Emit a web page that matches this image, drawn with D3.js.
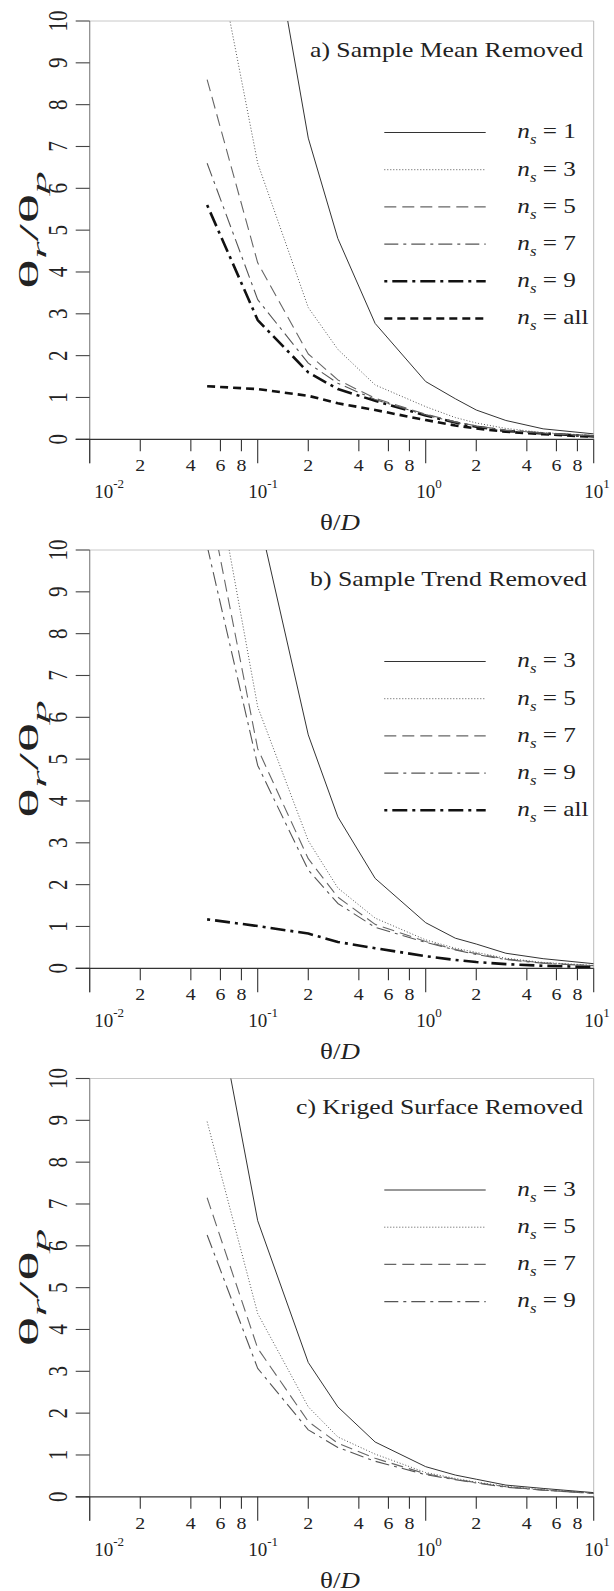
<!DOCTYPE html>
<html>
<head>
<meta charset="utf-8">
<script src="https://cdn.jsdelivr.net/npm/d3@7"></script>
<style>
  body{margin:0;background:#fff;}
  text{font-family:"Liberation Serif","Times New Roman",serif;fill:#222;}
</style>
</head>
<body>
<svg id="chart" width="614" height="1591"></svg>
<script>
// sample separations (theta/D) where the curves were computed
const xVals=[0.05,0.1,0.2,0.3,0.5,1,1.5,2,3,5,10];

// a) sample mean removed
const meanNs1=[30,14.1,7.2,4.8,2.77,1.38,0.97,0.70,0.45,0.25,0.13];
const meanNs3=[12.8,6.6,3.15,2.15,1.3,0.78,0.52,0.39,0.26,0.16,0.09];
const meanNs5=[8.6,4.22,2.04,1.42,0.98,0.6,0.42,0.32,0.22,0.15,0.08];
const meanNs7=[6.6,3.34,1.82,1.34,0.95,0.58,0.41,0.31,0.21,0.14,0.08];
const meanNs9=[5.6,2.85,1.6,1.2,0.92,0.57,0.40,0.30,0.20,0.14,0.07];
const meanNsAll=[1.27,1.2,1.04,0.86,0.70,0.46,0.33,0.26,0.18,0.12,0.06];

// b) sample trend removed
const trendNs3=[22,10.9,5.58,3.62,2.15,1.09,0.72,0.58,0.36,0.23,0.11];
const trendNs5=[12.9,6.25,3.05,1.92,1.2,0.68,0.48,0.38,0.24,0.14,0.07];
const trendNs7=[11.4,5.25,2.62,1.7,1.05,0.64,0.45,0.35,0.22,0.13,0.06];
const trendNs9=[10.1,4.85,2.35,1.55,0.98,0.62,0.44,0.33,0.21,0.12,0.06];
const trendNsAll=[1.17,1.01,0.83,0.63,0.48,0.29,0.2,0.15,0.1,0.06,0.03];

// c) kriged surface removed
const krigNs3=[13.0,6.6,3.21,2.15,1.31,0.72,0.52,0.42,0.28,0.2,0.1];
const krigNs5=[8.97,4.38,2.15,1.43,1.02,0.58,0.44,0.35,0.25,0.17,0.09];
const krigNs7=[7.15,3.55,1.8,1.28,0.92,0.55,0.42,0.34,0.24,0.16,0.08];
const krigNs9=[6.26,3.07,1.6,1.18,0.85,0.53,0.41,0.33,0.23,0.16,0.08];

const yTicks=[0,1,2,3,4,5,6,7,8,9,10];
const xMajor=[0.01,0.1,1,10];
const xMajorExp=["-2","-1","0","1"];
const xMinor=[0.02,0.04,0.06,0.08,0.2,0.4,0.6,0.8,2,4,6,8];
const xMinorLab=["2","4","6","8","2","4","6","8","2","4","6","8"];

const styles={
  solid:{dash:null,w:1,c:"#333"},
  dotted:{dash:"1,2",w:1,c:"#555"},
  dashed:{dash:"12,6",w:1.1,c:"#666"},
  longShort:{dash:"14,5,3,5",w:1.1,c:"#555"},
  thickDashDot:{dash:"3,5,15,5",w:2.6,c:"#111"},
  thickDashed:{dash:"8,5",w:2.6,c:"#111"}
};

const panels=[
  {top:21,title:"a) Sample Mean Removed",tx:310,tlen:273,series:[
    {lab:"1",v:meanNs1,s:"solid"},{lab:"3",v:meanNs3,s:"dotted"},
    {lab:"5",v:meanNs5,s:"dashed"},{lab:"7",v:meanNs7,s:"longShort"},
    {lab:"9",v:meanNs9,s:"thickDashDot"},{lab:"all",v:meanNsAll,s:"thickDashed"}]},
  {top:550,title:"b) Sample Trend Removed",tx:310,tlen:277,series:[
    {lab:"3",v:trendNs3,s:"solid"},{lab:"5",v:trendNs5,s:"dotted"},
    {lab:"7",v:trendNs7,s:"dashed"},{lab:"9",v:trendNs9,s:"longShort"},
    {lab:"all",v:trendNsAll,s:"thickDashDot"}]},
  {top:1078.5,title:"c) Kriged Surface Removed",tx:296,tlen:287,series:[
    {lab:"3",v:krigNs3,s:"solid"},{lab:"5",v:krigNs5,s:"dotted"},
    {lab:"7",v:krigNs7,s:"dashed"},{lab:"9",v:krigNs9,s:"longShort"}]}
];

const svg=d3.select("#chart");
const L=89.7,R=593.7,PH=418.3;
const SX=1.17;

// text placed at x,y, stretched horizontally by sx, optionally rotated inside
function stext(g,x,y,sx,rot){
  const holder=g.append("g").attr("transform",`translate(${x},${y}) scale(${sx},1)`);
  const t=holder.append("text");
  if(rot) t.attr("transform",`rotate(${rot})`);
  return t;
}

panels.forEach((p,pi)=>{
  const g=svg.append("g");
  const top=p.top,zero=top+PH;
  const x=d3.scaleLog().domain([0.01,10]).range([L,R]);
  const y=d3.scaleLinear().domain([0,10]).range([zero,top]);

  const cid="clip"+pi;
  g.append("clipPath").attr("id",cid).append("rect")
    .attr("x",L).attr("y",top).attr("width",R-L).attr("height",PH);

  // frame
  g.append("line").attr("x1",L).attr("x2",R).attr("y1",top).attr("y2",top)
    .attr("stroke","#c8c8c8").attr("stroke-width",1);
  g.append("line").attr("x1",R).attr("x2",R).attr("y1",top).attr("y2",zero)
    .attr("stroke","#bbb").attr("stroke-width",1);
  g.append("line").attr("x1",L).attr("x2",L).attr("y1",top).attr("y2",zero+24)
    .attr("stroke","#888").attr("stroke-width",1.2);

  // y ticks
  g.selectAll(".yt").data(yTicks).enter().append("line")
    .attr("x1",L-14).attr("x2",L).attr("y1",d=>y(d)).attr("y2",d=>y(d))
    .attr("stroke","#444").attr("stroke-width",1.1);
  yTicks.forEach(t=>{
    stext(g,67,y(t),1.25,-90).attr("text-anchor","middle")
      .attr("font-size",21).text(t);
  });

  // x axis line
  g.append("line").attr("x1",L-14).attr("x2",R).attr("y1",zero).attr("y2",zero)
    .attr("stroke","#333").attr("stroke-width",1.2);
  g.selectAll(".xM").data(xMajor).enter().append("line")
    .attr("x1",d=>x(d)).attr("x2",d=>x(d)).attr("y1",zero).attr("y2",zero+24)
    .attr("stroke","#333").attr("stroke-width",1.1);
  g.selectAll(".xm").data(xMinor).enter().append("line")
    .attr("x1",d=>x(d)).attr("x2",d=>x(d)).attr("y1",zero).attr("y2",zero+12)
    .attr("stroke","#333").attr("stroke-width",1.1);
  xMinor.forEach((t,i)=>{
    stext(g,x(t),zero+32,SX).attr("text-anchor","middle")
      .attr("font-size",17).text(xMinorLab[i]);
  });
  xMajor.forEach((t,i)=>{
    const cx=Math.max(x(t),L+14);
    const tx=stext(g,cx-9.5,zero+59,1.0).attr("font-size",19);
    tx.append("tspan").text("10");
    tx.append("tspan").attr("font-size",13).attr("dy",-10).text(xMajorExp[i]);
  });

  // axis titles
  const xl=stext(g,340,zero+91,SX).attr("text-anchor","middle").attr("font-size",23);
  xl.append("tspan").text("θ/");
  xl.append("tspan").attr("font-style","italic").text("D");

  const yl=stext(g,38,top+PH/2,1.15,-90).attr("text-anchor","middle").attr("font-size",24)
    .attr("fill","#333")
    .attr("textLength",118).attr("lengthAdjust","spacingAndGlyphs");
  yl.append("tspan").text("θ");
  yl.append("tspan").attr("font-style","italic").attr("font-size",17).attr("dy",7).text("r");
  yl.append("tspan").attr("dy",-7).text("/θ");
  yl.append("tspan").attr("font-style","italic").attr("font-size",17).attr("dy",7).text("p");

  // title
  g.append("text").attr("x",p.tx).attr("y",top+35.5).attr("font-size",22)
    .attr("textLength",p.tlen).attr("lengthAdjust","spacingAndGlyphs").text(p.title);

  // curves
  const line=d3.line().x(d=>x(d[0])).y(d=>y(d[1]));
  const cg=g.append("g").attr("clip-path",`url(#${cid})`);
  p.series.slice().reverse().forEach(s=>{
    const st=styles[s.s];
    cg.append("path").datum(xVals.map((xv,i)=>[xv,s.v[i]]))
      .attr("d",line).attr("fill","none")
      .attr("stroke",st.c).attr("stroke-width",st.w)
      .attr("stroke-dasharray",st.dash)
      .attr("stroke-linejoin","round");
  });

  // legend
  p.series.forEach((s,i)=>{
    const st=styles[s.s];
    const ry=top+111.5+i*37.2;
    g.append("line").attr("x1",384.3).attr("x2",485.7).attr("y1",ry).attr("y2",ry)
      .attr("stroke",st.c).attr("stroke-width",st.w).attr("stroke-dasharray",st.dash);
    const t=stext(g,517.3,ry+5.8,1.2).attr("font-size",21);
    t.append("tspan").attr("font-style","italic").text("n");
    t.append("tspan").attr("font-style","italic").attr("font-size",14).attr("dy",6).text("s");
    t.append("tspan").attr("dy",-6).text(" = "+s.lab);
  });
});
</script>
</body>
</html>
